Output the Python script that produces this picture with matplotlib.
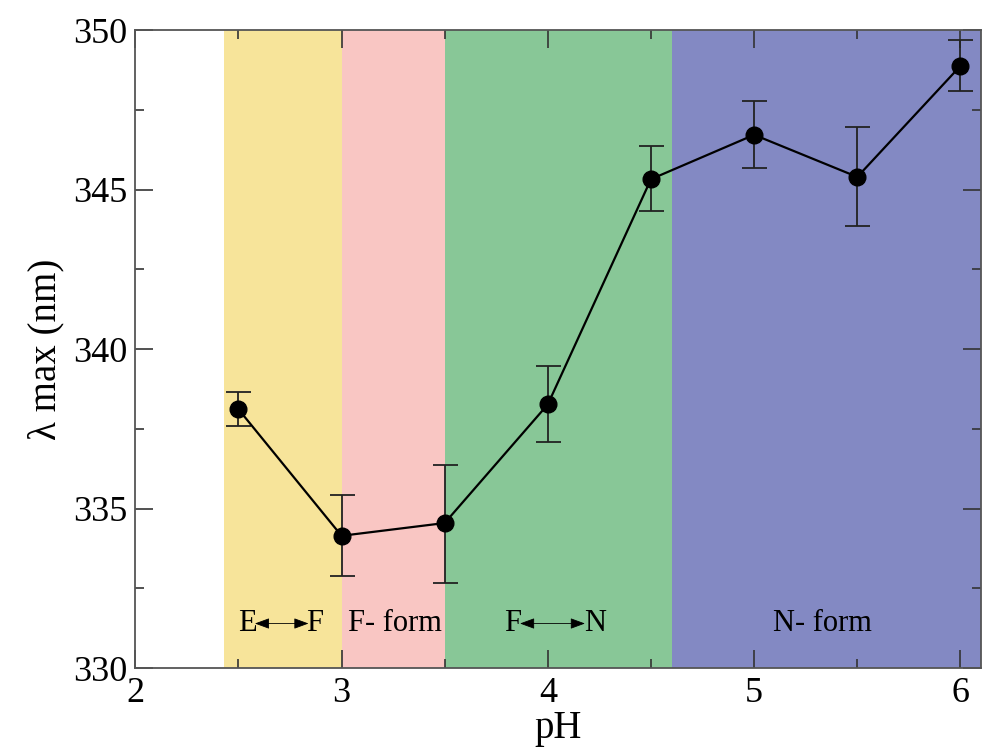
import numpy as np
import matplotlib
matplotlib.use('Agg')
import matplotlib.pyplot as plt
from matplotlib.ticker import MultipleLocator

plt.rcParams['font.family'] = ['Liberation Serif', 'DejaVu Serif']

# data
ph = [2.5, 3.0, 3.5, 4.0, 4.5, 5.0, 5.5, 6.0]
lam_max = [338.12, 334.15, 334.55, 338.27, 345.33, 346.72, 345.40, 348.88]
err_low = [0.52, 1.27, 1.88, 1.17, 1.0, 1.05, 1.55, 0.78]
err_high = [0.55, 1.27, 1.82, 1.2, 1.05, 1.06, 1.57, 0.82]

# regions (pH ranges), colours and labels
band_edges = [2.43, 3.0, 3.5, 4.6, 6.1]
band_colors = ['#f7e49a', '#f9c6c3', '#88c797', '#8389c3']

fig = plt.figure(figsize=(9.87, 7.55), dpi=100)
ax = fig.add_axes([0.137, 0.115, 0.857, 0.845])

for i in range(len(band_colors)):
    ax.axvspan(band_edges[i], band_edges[i + 1], color=band_colors[i], lw=0, zorder=0)

ax.errorbar(ph, lam_max, yerr=[err_low, err_high], color='black', marker='o',
            markersize=12, lw=1.6, ecolor='#222222', elinewidth=1.3,
            capsize=9, capthick=1.3, zorder=3)

# band labels
fs = 22
ly = 331.4
arrow = dict(arrowstyle='<|-|>,head_length=0.6,head_width=0.22', color='black',
             lw=0.6, mutation_scale=15, shrinkA=0, shrinkB=0)
ax.text(2.545, ly, 'E', fontsize=fs, ha='center', va='center')
ax.text(2.87, ly, 'F', fontsize=fs, ha='center', va='center')
ax.annotate('', xy=(2.58, ly), xytext=(2.84, ly), arrowprops=arrow)
ax.text(3.26, ly, 'F- form', fontsize=fs, ha='center', va='center')
ax.text(3.83, ly, 'F', fontsize=fs, ha='center', va='center')
ax.text(4.23, ly, 'N', fontsize=fs, ha='center', va='center')
ax.annotate('', xy=(3.865, ly), xytext=(4.18, ly), arrowprops=arrow)
ax.text(5.33, ly, 'N- form', fontsize=fs, ha='center', va='center')

ax.set_xlim(2, 6.1)
ax.set_ylim(330, 350)
ax.xaxis.set_major_locator(MultipleLocator(1))
ax.xaxis.set_minor_locator(MultipleLocator(0.5))
ax.yaxis.set_major_locator(MultipleLocator(5))
ax.yaxis.set_minor_locator(MultipleLocator(2.5))
ax.tick_params(which='both', direction='in', top=True, right=True,
               labelsize=26, color='#333333')
ax.tick_params(which='major', length=13, width=1.2, pad=6)
ax.tick_params(which='minor', length=6.5, width=1.2)
for s in ax.spines.values():
    s.set_color('#555555')
    s.set_linewidth(1.3)

ax.set_xlabel('pH', fontsize=28, labelpad=0)
ax.set_ylabel('λ max (nm)', fontsize=28, labelpad=6)

plt.savefig('out.png', dpi=100)
